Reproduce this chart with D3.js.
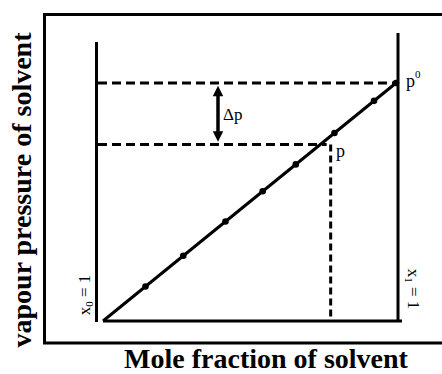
<!DOCTYPE html>
<html>
<head>
<meta charset="utf-8">
<script src="https://cdn.jsdelivr.net/npm/d3@7"></script>
<style>
    body { margin: 0; background: #fff; }
    text { font-family: "Liberation Serif", "DejaVu Serif", serif; }
</style>
</head>
<body>
<div id="chart"></div>
<script>
// Raoult's law: vapour pressure vs mole fraction of solvent
const lineX = [0, 1];
const lineY = [0, 1];
const dotX = [0.145, 0.274, 0.418, 0.545, 0.658, 0.79, 0.925, 1.0];
const pX = 0.777;
const pY = 0.742;
const p0Y = 1.0;
const xLabel = 'Mole fraction of solvent';
const yLabel = 'vapour pressure of solvent';

const width = 442, height = 374;

const svg = d3.select('#chart')
    .append('svg')
    .attr('width', width)
    .attr('height', height);

// scales: x = 0 at left end of baseline, 1 at right vertical
const xScale = d3.scaleLinear().domain([0, 1]).range([103, 396]);
const yScale = d3.scaleLinear().domain([0, 1]).range([321, 83]);

// outer frame (open on the right)
svg.append('path')
    .attr('d', `M442,14.5 H44.5 V343 H442`)
    .attr('fill', 'none')
    .attr('stroke', '#000')
    .attr('stroke-width', 3);

// inner verticals and baseline
svg.append('line')
    .attr('x1', 96.5).attr('x2', 96.5)
    .attr('y1', 42).attr('y2', 322)
    .attr('stroke', '#000').attr('stroke-width', 3);

svg.append('line')
    .attr('x1', 398).attr('x2', 398)
    .attr('y1', 33).attr('y2', 322)
    .attr('stroke', '#000').attr('stroke-width', 3);

svg.append('line')
    .attr('x1', xScale(0)).attr('x2', 402)
    .attr('y1', yScale(0)).attr('y2', yScale(0))
    .attr('stroke', '#000').attr('stroke-width', 3);

// dashed guides
const dash = '9,5';
svg.append('line')
    .attr('x1', 98).attr('x2', xScale(1))
    .attr('y1', yScale(p0Y)).attr('y2', yScale(p0Y))
    .attr('stroke', '#000').attr('stroke-width', 3)
    .attr('stroke-dasharray', dash);

svg.append('line')
    .attr('x1', 98).attr('x2', xScale(pX) - 4)
    .attr('y1', yScale(pY)).attr('y2', yScale(pY))
    .attr('stroke', '#000').attr('stroke-width', 3)
    .attr('stroke-dasharray', dash);

svg.append('line')
    .attr('x1', xScale(pX)).attr('x2', xScale(pX))
    .attr('y1', yScale(pY)).attr('y2', yScale(0))
    .attr('stroke', '#000').attr('stroke-width', 3)
    .attr('stroke-dasharray', '7,4');

// the Raoult line
const line = d3.line()
    .x(d => xScale(d[0]))
    .y(d => yScale(d[1]));

svg.append('path')
    .datum(lineX.map((x, i) => [x, lineY[i]]))
    .attr('d', line)
    .attr('fill', 'none')
    .attr('stroke', '#000')
    .attr('stroke-width', 3);

svg.selectAll('.dot')
    .data(dotX)
    .join('circle')
    .attr('class', 'dot')
    .attr('cx', d => xScale(d))
    .attr('cy', d => yScale(d))
    .attr('r', 3.3)
    .attr('fill', '#000');

// delta-p double arrow
const ax = 218;
const defs = svg.append('defs');
defs.append('marker')
    .attr('id', 'head')
    .attr('viewBox', '0 0 10 10')
    .attr('refX', 5).attr('refY', 5)
    .attr('markerWidth', 3.3).attr('markerHeight', 3)
    .attr('orient', 'auto-start-reverse')
    .append('path')
    .attr('d', 'M0,0 L10,5 L0,10 z')
    .attr('fill', '#000');

svg.append('line')
    .attr('x1', ax).attr('x2', ax)
    .attr('y1', yScale(p0Y) + 8).attr('y2', yScale(pY) - 8)
    .attr('stroke', '#000').attr('stroke-width', 3.5)
    .attr('marker-start', 'url(#head)')
    .attr('marker-end', 'url(#head)');

svg.append('text')
    .attr('x', ax + 5).attr('y', 120)
    .style('font-size', '17px')
    .text('\u0394p');

// labels
svg.append('text')
    .attr('x', 406).attr('y', 87)
    .style('font-size', '18px')
    .text('p')
    .append('tspan')
    .attr('dy', -9)
    .style('font-size', '11px')
    .text('0');

svg.append('text')
    .attr('x', 336).attr('y', 157)
    .style('font-size', '18px')
    .text('p');

svg.append('text')
    .attr('transform', 'translate(90,295) rotate(-90)')
    .attr('text-anchor', 'middle')
    .style('font-size', '17px')
    .html('x<tspan dy="3" font-size="11">0</tspan><tspan dy="-3"> = 1</tspan>');

svg.append('text')
    .attr('transform', 'translate(408,289) rotate(90)')
    .attr('text-anchor', 'middle')
    .style('font-size', '17px')
    .html('x<tspan dy="3" font-size="11">1</tspan><tspan dy="-3"> = 1</tspan>');

// axis titles
svg.append('text')
    .attr('x', 266).attr('y', 368)
    .attr('text-anchor', 'middle')
    .style('font-size', '28px')
    .style('font-weight', 'bold')
    .text(xLabel);

svg.append('text')
    .attr('transform', 'translate(31,190) rotate(-90)')
    .attr('text-anchor', 'middle')
    .style('font-size', '28px')
    .style('font-weight', 'bold')
    .text(yLabel);
</script>
</body>
</html>
